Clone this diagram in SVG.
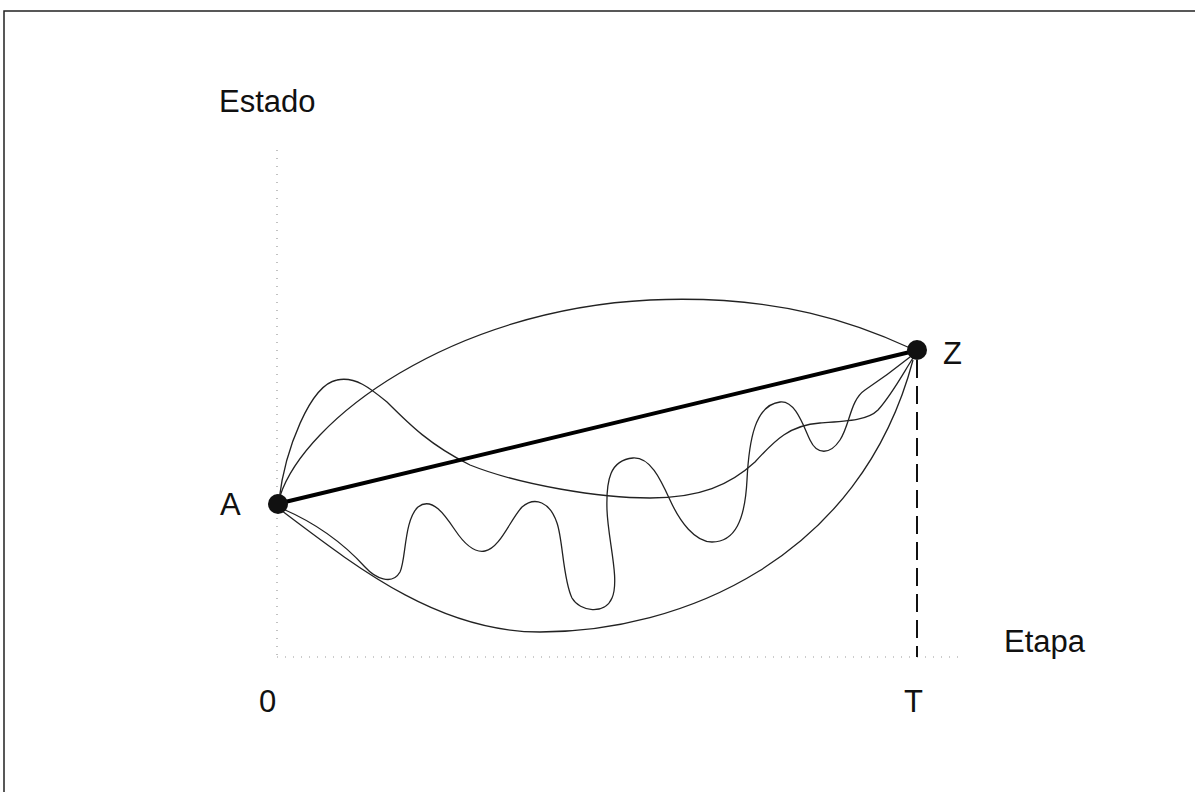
<svg xmlns="http://www.w3.org/2000/svg" width="1195" height="792" viewBox="0 0 1195 792">
<style>
.lbl{font-family:"Liberation Sans",Arial,sans-serif;font-size:31px;fill:#111}
.curve{fill:none;stroke:#222;stroke-width:1.3}
.axis{fill:none;stroke:#999;stroke-width:1.2;stroke-dasharray:1 7}
.node{fill:#111}
</style>
<rect width="1195" height="792" fill="#fff"/>
<g id="frame" fill="none" stroke="#222" stroke-width="1.5">
<path d="M4,792 V11 H1195"/>
</g>
<g id="axes">
<path class="axis" d="M277,150 V657"/>
<path class="axis" d="M277,657 H965"/>
</g>
<g id="connectors">
<path class="curve" d="M280,496 C305,420 450,310 650,300 C780,294 860,325 910,348"/>
<path class="curve" d="M279,500 C285,450 310,385 337,380 C355,376 370,388 387,402 C410,425 430,445 470,465 C520,485 600,498 650,498 C700,498 730,485 755,462 C775,440 790,425 820,423 C850,421 868,420 878,410 C893,393 905,370 913,358"/>
<path class="curve" d="M283,509 C320,525 345,545 365,567 C375,578 392,586 400,572 C406,560 404,520 418,507 C432,496 445,515 455,530 C465,545 475,553 485,551 C500,548 510,520 522,507 C535,496 550,502 557,523 C563,540 563,580 572,598 C580,612 605,615 612,598 C620,580 608,540 607,510 C606,480 610,460 633,458 C650,457 660,478 670,500 C680,522 695,542 712,542 C735,542 745,520 747,480 C749,440 755,405 780,402 C795,400 803,425 810,440 C817,455 830,455 840,440 C850,425 850,400 865,390 C880,380 900,365 910,357"/>
<path class="curve" d="M282,511 C360,570 440,632 540,632 C680,632 860,560 913,360"/>
<path fill="none" stroke="#000" stroke-width="4" d="M285,502 L910,352"/>
<path fill="none" stroke="#111" stroke-width="2" stroke-dasharray="18 8" d="M917,360 V657"/>
</g>
<g id="node-A">
<circle class="node" cx="278" cy="504" r="10"/>
<text class="lbl" x="220" y="515">A</text>
</g>
<g id="node-Z">
<circle class="node" cx="917" cy="350" r="10"/>
<text class="lbl" x="943" y="364">Z</text>
</g>
<g id="labels">
<text class="lbl" x="219" y="112">Estado</text>
<text class="lbl" x="1004" y="652">Etapa</text>
<text class="lbl" x="259" y="712">0</text>
<text class="lbl" x="904" y="712">T</text>
</g>
</svg>
